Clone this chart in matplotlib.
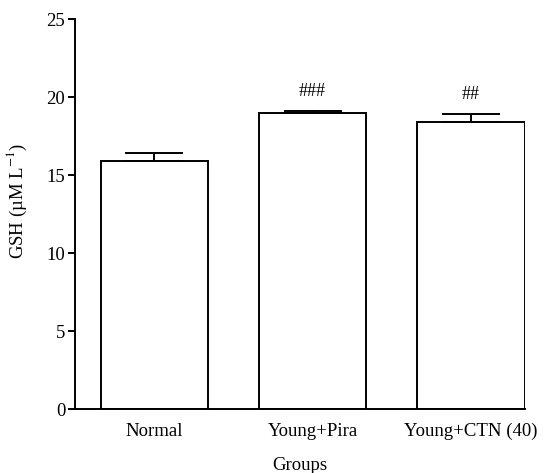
import matplotlib
matplotlib.use("Agg")
import matplotlib.pyplot as plt

groups = ["Normal", "Young+Pira", "Young+CTN (40)"]
gsh_mean = [15.9, 19.0, 18.4]
gsh_err = [0.5, 0.1, 0.5]
marks = ["", "###", "##"]

plt.rcParams['font.family'] = ['Liberation Serif', 'DejaVu Serif']
plt.rcParams['mathtext.fontset'] = 'stix'

fig = plt.figure(figsize=(5.54, 4.73), dpi=100)
ax = fig.add_axes([75/554, 64/473, (524.5-75)/554, (409-19)/473])

x = list(range(len(groups)))
ax.bar(x, gsh_mean, width=0.676, color='white', edgecolor='black', linewidth=1.4,
       yerr=[[0]*len(x), gsh_err], capsize=21,
       error_kw=dict(ecolor='black', elinewidth=1.4, capthick=1.4))

for xi, m, e, s in zip(x, gsh_mean, gsh_err, marks):
    if s:
        ax.annotate(s, (xi, m + e), xytext=(0, 8), textcoords='offset points',
                    ha='center', va='bottom', fontsize=13)

ax.set_xlim(-0.5, 2.338)
ax.set_ylim(0, 25)
ax.set_yticks([0, 5, 10, 15, 20, 25])
ax.set_xticks(x)
ax.set_xticklabels(groups, fontsize=13.5)
ax.tick_params(axis='y', labelsize=13.5, width=1.4, length=5, pad=2)
ax.tick_params(axis='x', length=0, pad=10)
for side in ['top', 'right']:
    ax.spines[side].set_visible(False)
for side in ['left', 'bottom']:
    ax.spines[side].set_linewidth(1.4)

ax.set_ylabel("GSH (µM L$^{-1}$)", fontsize=13.5)
ax.yaxis.set_label_coords(-0.102, 0.533)
ax.set_xlabel("Groups", fontsize=13.5, labelpad=12)

fig.savefig("out.png", dpi=100)
